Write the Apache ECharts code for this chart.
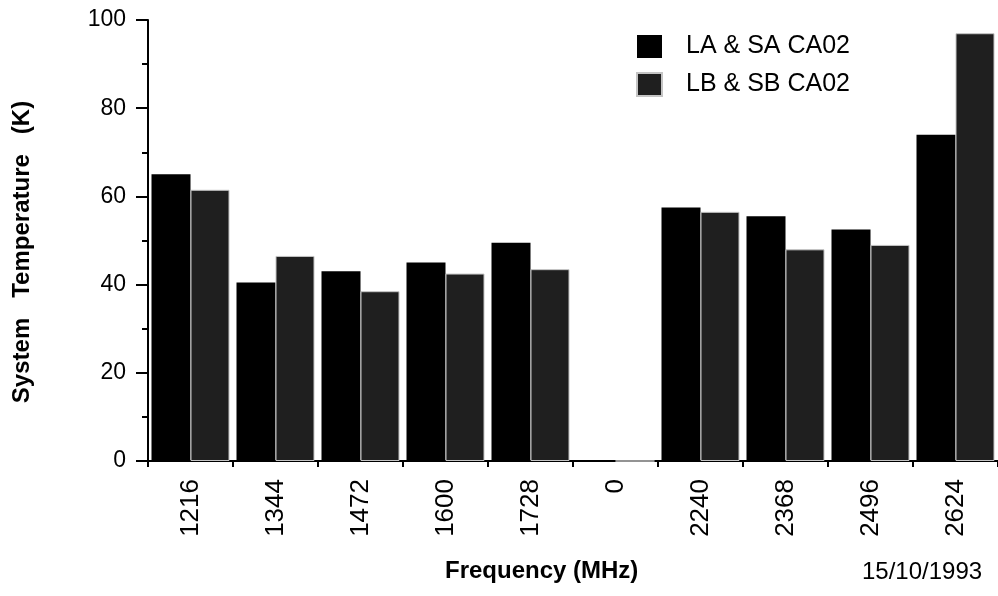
<!DOCTYPE html>
<html>
<head>
<meta charset="utf-8">
<script src="https://cdn.jsdelivr.net/npm/echarts@6/dist/echarts.min.js"></script>
<style>
  html, body { margin: 0; padding: 0; background: #fff; }
  #chart { width: 998px; height: 596px; }
</style>
</head>
<body>
<div id="chart"></div>
<script>
// Receiver frequencies (MHz) along the horizontal axis
const frequencies = ['1216', '1344', '1472', '1600', '1728', '0', '2240', '2368', '2496', '2624'];
// System temperature (K) per receiver pair
const laSaCA02 = [65, 40.5, 43, 45, 49.5, 0, 57.5, 55.5, 52.5, 74];
const lbSbCA02 = [61.5, 46.5, 38.5, 42.5, 43.5, 0, 56.5, 48, 49, 97];
const seriesNames = ['LA & SA CA02', 'LB & SB CA02'];
const yTicks = [0, 20, 40, 60, 80, 100];
const yTitle = 'System   Temperature   (K)';
const xTitle = 'Frequency (MHz)';
const dateStamp = '15/10/1993';

const FONT = '"Liberation Sans", Arial, Helvetica, sans-serif';

const chart = echarts.init(document.getElementById('chart'));
chart.setOption({
  backgroundColor: '#ffffff',
  animation: false,
  textStyle: { fontFamily: FONT, color: '#000' },
  grid: { left: 148, top: 20, right: -3, bottom: 135, containLabel: false },
  legend: {
    orient: 'vertical',
    left: 636,
    top: 34,
    padding: 0,
    itemWidth: 25,
    itemHeight: 23,
    itemGap: 13,
    icon: 'rect',
    data: seriesNames,
    textStyle: { fontFamily: FONT, fontSize: 25, color: '#000', padding: [0, 0, 0, 19] }
  },
  xAxis: {
    type: 'category',
    data: frequencies,
    axisLine: { lineStyle: { color: '#000', width: 2 } },
    axisTick: { show: true, length: 6, lineStyle: { color: '#000', width: 2 } },
    axisLabel: {
      rotate: 90,
      margin: 18,
      fontSize: 26,
      fontFamily: FONT,
      color: '#000'
    },
    splitLine: { show: false }
  },
  yAxis: {
    type: 'value',
    min: yTicks[0],
    max: yTicks[yTicks.length - 1],
    interval: 20,
    axisLine: { show: true, lineStyle: { color: '#000', width: 2 } },
    axisTick: { show: true, length: 12, lineStyle: { color: '#000', width: 2 } },
    minorTick: { show: true, splitNumber: 2, length: 6, lineStyle: { color: '#000', width: 2 } },
    axisLabel: { margin: 22, fontSize: 23, fontFamily: FONT, color: '#000' },
    splitLine: { show: false }
  },
  series: [
    {
      name: seriesNames[0],
      type: 'bar',
      data: laSaCA02,
      barWidth: 39,
      barGap: '0%',
      itemStyle: { color: '#000000' }
    },
    {
      name: seriesNames[1],
      type: 'bar',
      data: lbSbCA02,
      barWidth: 39,
      barGap: '0%',
      itemStyle: { color: '#1f1f1f', borderColor: '#c4c4c4', borderWidth: 1 }
    }
  ],
  graphic: [
    {
      type: 'text',
      x: 22,
      y: 252,
      rotation: Math.PI / 2,
      style: {
        text: yTitle,
        font: 'bold 24px ' + FONT,
        fill: '#000',
        align: 'center',
        verticalAlign: 'middle'
      }
    },
    {
      type: 'text',
      left: 445,
      top: 559,
      style: { text: xTitle, font: 'bold 24px ' + FONT, fill: '#000' }
    },
    {
      type: 'text',
      left: 862,
      top: 560,
      style: { text: dateStamp, font: '24px ' + FONT, fill: '#000' }
    }
  ]
});
</script>
</body>
</html>
